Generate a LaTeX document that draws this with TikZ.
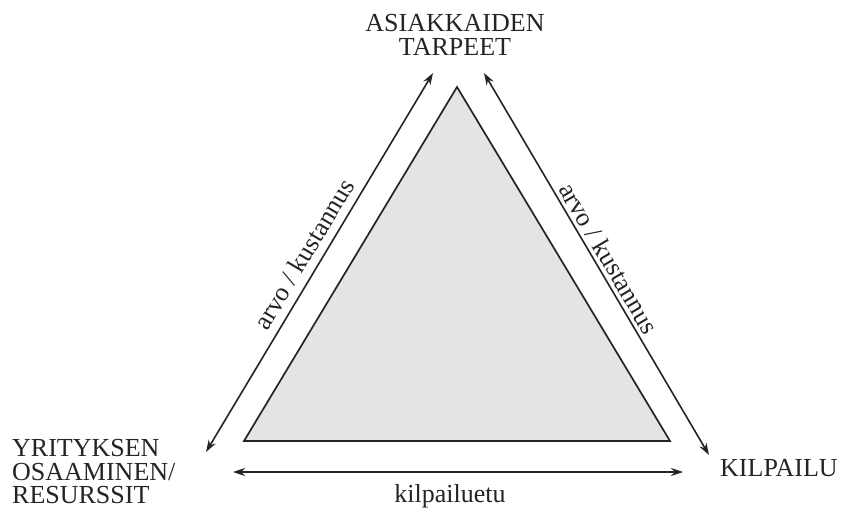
\documentclass[tikz,border=0pt]{standalone}
\usepackage{fontspec}
\setmainfont{Liberation Serif}
\usetikzlibrary{arrows.meta}
\definecolor{tri}{HTML}{E4E4E6}
\definecolor{ink}{HTML}{242424}
\begin{document}
\begin{tikzpicture}[x=1pt,y=-1pt,
  lbl/.style={font=\fontsize{26}{23.5}\selectfont, text=ink, inner sep=0pt},
  sml/.style={font=\fontsize{26}{28}\selectfont, text=ink, inner sep=0pt},
  arr/.style={draw=ink, line width=1.6pt, {Stealth[length=12pt,width=8pt]}-{Stealth[length=12pt,width=8pt]}}]
\useasboundingbox (0,0) rectangle (845,510);
% triangle
\coordinate (A) at (457,87);
\coordinate (B) at (244,441);
\coordinate (C) at (670,441);
\filldraw[fill=tri, draw=ink, line width=1.7pt, line join=miter] (A) -- (B) -- (C) -- cycle;
% arrow end points
\coordinate (L1) at (206,452);
\coordinate (L2) at (433,73);
\coordinate (R1) at (484,73);
\coordinate (R2) at (709,455);
\coordinate (H1) at (233,472);
\coordinate (H2) at (683,472);
\draw[arr] (L1) -- (L2);
\draw[arr] (R1) -- (R2);
\draw[arr] (H1) -- (H2);
% labels
\node[lbl, align=center] (top) at (455,35) {ASIAKKAIDEN\\TARPEET};
\node[lbl, align=left, anchor=west] (left) at (12,472) {YRITYKSEN\\OSAAMINEN/\\RESURSSIT};
\node[lbl, anchor=west] (right) at (720,468) {KILPAILU};
\node[sml] (bot) at (450,496) {kilpailuetu};
\node[sml, rotate=59.1] (al) at (304,254) {arvo / kustannus};
\node[sml, rotate=-59.5] (ar) at (609,258) {arvo / kustannus};
\end{tikzpicture}
\end{document}
